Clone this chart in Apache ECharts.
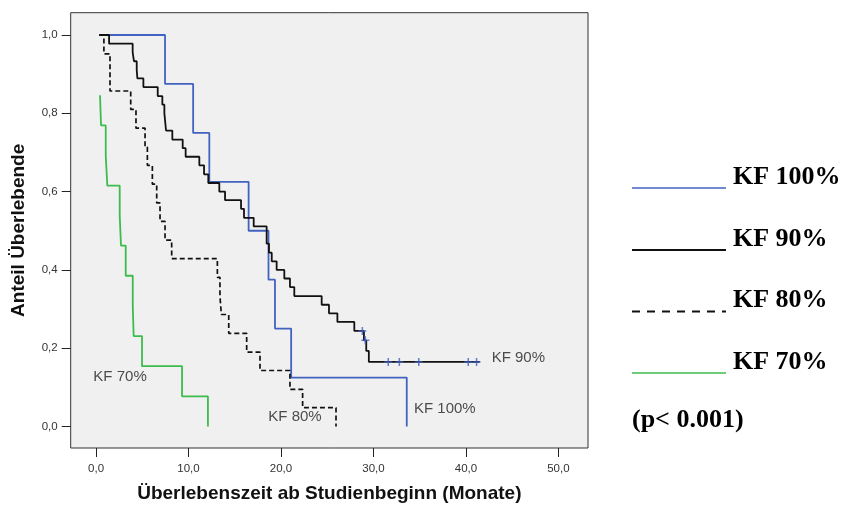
<!DOCTYPE html>
<html><head><meta charset="utf-8">
<script src="https://cdn.jsdelivr.net/npm/echarts@6/dist/echarts.min.js"></script>
<style>html,body{margin:0;padding:0;background:#fff}#c{width:841px;height:508px}</style>
</head><body><div id="c"></div><script>
// ---- data ----
const kf100Time = [0.35, 7.46, 10.5, 12.25, 16.5, 18.65, 19.35, 21.1, 33.6];
const kf100Surv = [1.0, 0.875, 0.75, 0.625, 0.5, 0.375, 0.25, 0.125, 0.0];

const kf90Time = [0.35,1.41,3.96,4.1,4.4,4.47,5.12,6.67,7.17,7.39,7.57,8.25,9.37,9.69,11.17,11.68,12.14,13.33,13.95,15.68,16.0,17.05,18.45,18.7,19.0,19.53,20.36,20.97,21.44,24.4,25.19,26.1,27.93,28.97,29.22,29.5,41.5];
const kf90Surv = [1.0,0.978,0.956,0.933,0.911,0.889,0.867,0.844,0.822,0.8,0.756,0.733,0.711,0.689,0.667,0.644,0.622,0.6,0.578,0.556,0.533,0.511,0.467,0.444,0.422,0.4,0.378,0.356,0.333,0.311,0.289,0.267,0.244,0.22,0.193,0.165,0.165];
const kf90CensTime = [28.8, 29.12, 31.6, 32.8, 34.9, 40.25, 41.15];
const kf90CensSurv = [0.244, 0.22, 0.165, 0.165, 0.165, 0.165, 0.165];

const kf80Time = [0.35,0.85,1.51,3.75,4.32,5.3,5.55,6.09,6.56,6.92,7.46,8.18,13.12,13.4,13.55,14.35,16.29,17.73,20.97,22.34,25.95];
const kf80Surv = [1.0,0.952,0.857,0.81,0.762,0.714,0.667,0.619,0.571,0.524,0.476,0.429,0.381,0.333,0.286,0.238,0.19,0.143,0.095,0.048,0.0];

const kf70Time = [0.43,0.54,1.05,1.22,2.56,2.7,3.21,3.97,4.07,4.97,9.3,12.1];
const kf70Surv = [0.846,0.769,0.692,0.615,0.538,0.462,0.385,0.308,0.231,0.154,0.077,0.0];

const curveLabelText = ['KF 70%', 'KF 80%', 'KF 100%', 'KF 90%'];
const curveLabelX = [-0.29, 18.63, 34.38, 42.78];
const curveLabelY = [0.127, 0.024, 0.045, 0.176];

const xTicks = [0, 10, 20, 30, 40, 50];
const yTicks = [0, 0.2, 0.4, 0.6, 0.8, 1.0];

const legendNames = ['KF 100%', 'KF 90%', 'KF 80%', 'KF 70%'];
const pValueText = '(p< 0.001)';
const xTitle = 'Überlebenszeit ab Studienbeginn (Monate)';
const yTitle = 'Anteil Überlebende';

// ---- styles ----
const BLUE = '#4262c0', GREEN = '#3cbc4c', BLACK = '#111';
const zip = (a, b) => a.map((v, i) => [v, b[i]]);
const fmt = v => v.toFixed(1).replace('.', ',');
const plus = 'path://M6.5,0H9.5V6.5H16V9.5H9.5V16H6.5V9.5H0V6.5H6.5Z';

const chart = echarts.init(document.getElementById('c'), null, {renderer: 'canvas'});

const legendColors = [BLUE, BLACK, BLACK, GREEN];
const legendDash = [null, null, [8, 7], null];
const legendBaseY = [186, 248, 309.5, 371];
const graphics = [];
legendNames.forEach((n, i) => {
  graphics.push({
    type: 'line', silent: true,
    shape: {x1: 632, y1: legendBaseY[i] + 2, x2: 726, y2: legendBaseY[i] + 2},
    style: {stroke: legendColors[i], lineWidth: i === 0 || i === 3 ? 1.4 : 1.8, lineDash: legendDash[i] || null}
  });
  graphics.push({
    type: 'text', silent: true,
    style: {x: 733, y: legendBaseY[i] - 9, text: n, fill: '#000',
      font: 'bold 26px "Liberation Serif", "Times New Roman", serif', verticalAlign: 'middle', align: 'left'}
  });
});
graphics.push({
  type: 'text', silent: true,
  style: {x: 632, y: 429.5 - 9, text: pValueText, fill: '#000',
    font: 'bold 26px "Liberation Serif", "Times New Roman", serif', verticalAlign: 'middle', align: 'left'}
});

const option = {
  animation: false,
  backgroundColor: '#fff',
  grid: {left: 70.7, top: 12.7, right: 253, bottom: 57, show: true,
    backgroundColor: '#f0f0f0', borderColor: '#333', borderWidth: 1},
  xAxis: {
    type: 'value', min: -2.74, max: 53.2, position: 'bottom',
    name: xTitle, nameLocation: 'middle', nameGap: 36,
    nameTextStyle: {fontFamily: '"Liberation Sans", Arial, sans-serif', fontWeight: 'bold', fontSize: 19, color: '#111'},
    axisLine: {show: false, onZero: false},
    axisTick: {show: true, length: 9, inside: false, customValues: xTicks, lineStyle: {color: '#222', width: 1}},
    axisLabel: {customValues: xTicks, formatter: fmt, margin: 15, fontSize: 11.5,
      fontFamily: '"Liberation Sans", Arial, sans-serif', color: '#333'},
    splitLine: {show: false}
  },
  yAxis: {
    type: 'value', min: -0.055, max: 1.057, position: 'left',
    name: yTitle, nameLocation: 'middle', nameGap: 42, nameRotate: 90,
    nameTextStyle: {fontFamily: '"Liberation Sans", Arial, sans-serif', fontWeight: 'bold', fontSize: 19, color: '#111'},
    axisLine: {show: false, onZero: false},
    axisTick: {show: true, length: 9, inside: false, customValues: yTicks, lineStyle: {color: '#222', width: 1}},
    axisLabel: {customValues: yTicks, formatter: fmt, margin: 13, fontSize: 11.5,
      fontFamily: '"Liberation Sans", Arial, sans-serif', color: '#333'},
    splitLine: {show: false}
  },
  series: [
    {name: 'KF 100%', type: 'line', step: 'end', data: zip(kf100Time, kf100Surv), showSymbol: false,
      lineStyle: {color: BLUE, width: 1.8}, z: 2},
    {name: 'KF 80%', type: 'line', step: 'end', data: zip(kf80Time, kf80Surv), showSymbol: false,
      lineStyle: {color: BLACK, width: 1.7, type: [5, 3]}, z: 3},
    {name: 'KF 70%', type: 'line', step: 'end', data: zip(kf70Time, kf70Surv), showSymbol: false,
      lineStyle: {color: GREEN, width: 1.8}, z: 3},
    {name: 'KF 90%', type: 'line', step: 'end', data: zip(kf90Time, kf90Surv), showSymbol: false,
      lineStyle: {color: BLACK, width: 1.8}, z: 4},
    {name: 'zensiert', type: 'scatter', data: zip(kf90CensTime, kf90CensSurv), symbol: plus, symbolSize: 8,
      itemStyle: {color: BLUE}, z: 5},
    {name: 'labels', type: 'scatter', symbolSize: 0, z: 6,
      data: curveLabelText.map((t, i) => ({value: [curveLabelX[i], curveLabelY[i]], name: t})),
      label: {show: true, position: 'right', distance: 0, formatter: p => p.name, fontSize: 15,
        fontFamily: '"Liberation Sans", Arial, sans-serif', color: '#222'}}
  ],
  graphic: graphics
};
chart.setOption(option);
</script></body></html>
